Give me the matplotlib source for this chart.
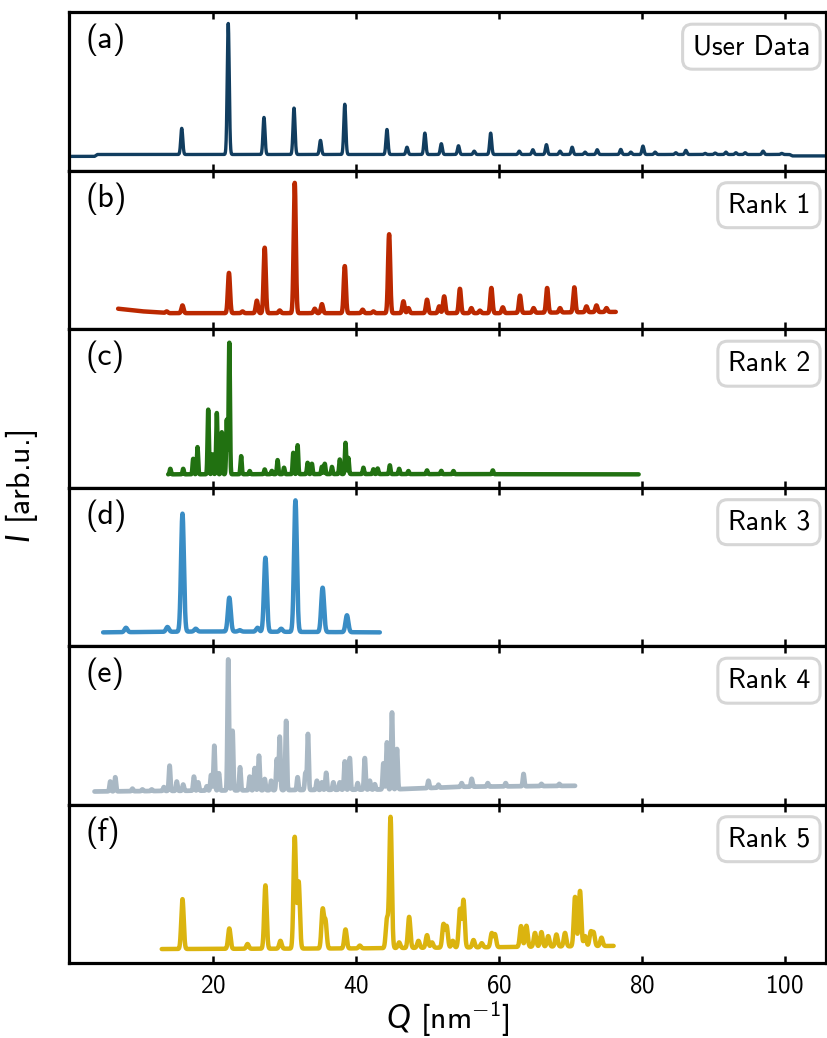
import numpy as np
import matplotlib
matplotlib.use("Agg")
import matplotlib.pyplot as plt

plt.rcParams['font.family'] = ['cmss10', 'DejaVu Sans']
plt.rcParams['mathtext.fontset'] = 'custom'
plt.rcParams['mathtext.rm'] = 'cmss10'
plt.rcParams['mathtext.sf'] = 'cmss10'
plt.rcParams['mathtext.it'] = 'Lato:italic'
plt.rcParams['axes.formatter.use_mathtext'] = True

# ---------------- data (Q in nm^-1, intensities as fraction of panel height) -------------
labels = ['(a)', '(b)', '(c)', '(d)', '(e)', '(f)']
names = ['User Data', 'Rank 1', 'Rank 2', 'Rank 3', 'Rank 4', 'Rank 5']
colors = ['#113d5f', '#bb2800', '#217111', '#3a8dc5', '#a9b8c4', '#dbb40f']
linewidths = [2.4, 3.2, 3.2, 3.2, 3.4, 3.2]
sigmas = [0.14, 0.15, 0.09, 0.2, 0.1, 0.17]

# Q range of each pattern
q_start = [0.0, 6.8, 13.8, 4.7, 3.5, 12.9]
q_end = [105.8, 76.4, 79.6, 43.4, 70.7, 76.1]

# baseline knots (Q, level)
base_a_q = [0.0, 3.5, 3.9, 100.7, 101.1, 105.8]
base_a_y = [0.089, 0.089, 0.101, 0.101, 0.092, 0.092]
base_b_q = [6.8, 10.0, 14.0, 60.0, 76.4]
base_b_y = [0.128, 0.112, 0.100, 0.100, 0.108]
base_c_q = [13.8, 40.0, 79.6]
base_c_y = [0.083, 0.085, 0.083]
base_d_q = [4.7, 20.0, 43.4]
base_d_y = [0.086, 0.092, 0.086]
base_e_q = [3.5, 20.0, 45.0, 55.0, 70.7]
base_e_y = [0.082, 0.088, 0.095, 0.112, 0.118]
base_f_q = [12.9, 40.0, 60.0, 76.1]
base_f_y = [0.088, 0.092, 0.100, 0.108]

# peak positions and peak tops
peaks_a_q = [15.7, 22.2, 27.2, 31.4, 35.1, 38.5, 44.4, 47.2, 49.7, 52.0, 54.4, 56.6,
             58.9, 62.9, 64.8, 66.7, 68.6, 70.3, 72.1, 73.8, 77.1, 78.5, 80.2, 81.9,
             84.8, 86.2, 88.9, 90.3, 91.8, 93.2, 94.5, 97.0, 99.6]
peaks_a_y = [0.266, 0.928, 0.335, 0.394, 0.190, 0.418, 0.259, 0.147, 0.236, 0.169, 0.156, 0.122,
             0.236, 0.122, 0.131, 0.163, 0.122, 0.147, 0.116, 0.131, 0.133, 0.116, 0.154, 0.116,
             0.112, 0.127, 0.108, 0.110, 0.116, 0.112, 0.112, 0.122, 0.108]

peaks_b_q = [13.6, 15.8, 22.3, 24.2, 26.2, 27.3, 29.4, 31.5, 34.3, 35.3, 38.5, 41.0,
             42.5, 44.7, 46.7, 47.4, 50.0, 51.7, 52.4, 54.6, 56.2, 57.4, 59.0, 60.6,
             63.0, 64.9, 66.8, 68.6, 70.6, 72.3, 73.7, 75.1]
peaks_b_y = [0.111, 0.149, 0.354, 0.111, 0.179, 0.513, 0.117, 0.922, 0.128, 0.157, 0.397, 0.122,
             0.111, 0.598, 0.175, 0.132, 0.185, 0.143, 0.206, 0.254, 0.132, 0.116, 0.259, 0.137,
             0.211, 0.132, 0.259, 0.132, 0.263, 0.143, 0.149, 0.132]

peaks_c_q = [14.1, 15.9, 17.3, 17.9, 19.4, 20.0, 20.6, 21.3, 22.0, 22.35, 24.0, 25.2,
             27.3, 28.3, 29.1, 30.0, 31.3, 31.9, 33.3, 33.9, 35.3, 35.7, 36.7, 37.8,
             38.6, 39.0, 41.1, 42.5, 43.1, 44.8, 46.1, 47.4, 50.0, 52.0, 53.7, 59.2]
peaks_c_y = [0.118, 0.118, 0.181, 0.255, 0.492, 0.209, 0.470, 0.349, 0.429, 0.915, 0.198, 0.104,
             0.114, 0.105, 0.173, 0.125, 0.219, 0.267, 0.156, 0.150, 0.131, 0.150, 0.130, 0.177,
             0.282, 0.187, 0.125, 0.115, 0.120, 0.140, 0.118, 0.104, 0.108, 0.105, 0.104, 0.108]

peaks_d_q = [7.9, 13.7, 15.8, 17.65, 22.35, 23.8, 26.3, 27.4, 29.6, 31.6, 35.4, 38.8]
peaks_d_y = [0.115, 0.120, 0.835, 0.109, 0.305, 0.100, 0.115, 0.557, 0.109, 0.919, 0.368, 0.194]

peaks_e_q = [5.7, 6.4, 8.8, 10.2, 11.5, 13.2, 14.0, 15.0, 15.9, 17.4, 18.0, 19.2,
             19.8, 20.25, 20.9, 22.2, 22.8, 23.85, 25.2, 25.9, 26.5, 27.3, 28.2, 29.0,
             29.4, 30.3, 31.9, 33.0, 33.35, 34.6, 35.3, 35.9, 36.9, 37.8, 38.5, 39.2,
             40.3, 41.3, 42.0, 42.7, 43.9, 44.4, 45.1, 45.8, 50.2, 51.6, 54.85, 56.25,
             58.5, 61.0, 63.5, 66.0, 68.5]
peaks_e_y = [0.145, 0.172, 0.100, 0.095, 0.095, 0.110, 0.245, 0.145, 0.126, 0.176, 0.140, 0.115,
             0.186, 0.371, 0.197, 0.916, 0.465, 0.235, 0.176, 0.230, 0.308, 0.161, 0.150, 0.287,
             0.428, 0.528, 0.172, 0.200, 0.445, 0.150, 0.140, 0.200, 0.140, 0.140, 0.272, 0.293,
             0.135, 0.293, 0.150, 0.128, 0.260, 0.392, 0.581, 0.350, 0.150, 0.125, 0.135, 0.162,
             0.135, 0.135, 0.193, 0.130, 0.130]

peaks_f_q = [15.8, 22.35, 24.9, 27.4, 29.5, 31.5, 32.05, 35.4, 35.8, 38.6, 40.6, 44.4,
             44.9, 46.1, 47.5, 48.8, 50.0, 50.7, 52.3, 52.75, 53.6, 54.6, 55.1, 56.5,
             57.65, 59.05, 59.5, 63.15, 63.9, 65.1, 66.0, 66.95, 68.1, 69.3, 70.7, 71.4,
             72.1, 72.9, 73.3, 74.4]
peaks_f_y = [0.403, 0.218, 0.120, 0.490, 0.140, 0.794, 0.511, 0.333, 0.260, 0.212, 0.110, 0.277,
             0.920, 0.130, 0.291, 0.140, 0.176, 0.130, 0.243, 0.230, 0.140, 0.338, 0.396, 0.145,
             0.125, 0.187, 0.180, 0.233, 0.235, 0.190, 0.195, 0.170, 0.180, 0.190, 0.417, 0.455,
             0.170, 0.195, 0.190, 0.160]

xticks = [20, 40, 60, 80, 100]
xlim = (0, 105.8)

bases = [(base_a_q, base_a_y), (base_b_q, base_b_y), (base_c_q, base_c_y),
         (base_d_q, base_d_y), (base_e_q, base_e_y), (base_f_q, base_f_y)]
peaks = [(peaks_a_q, peaks_a_y), (peaks_b_q, peaks_b_y), (peaks_c_q, peaks_c_y),
         (peaks_d_q, peaks_d_y), (peaks_e_q, peaks_e_y), (peaks_f_q, peaks_f_y)]

# ---------------- figure ----------------
fig = plt.figure(figsize=(8.28, 10.38), dpi=100)
top, bottom = 1 - 12 / 1038, 1 - 963 / 1038
left, right = 69.5 / 828, 826 / 828
gs = fig.add_gridspec(6, 1, left=left, right=right, top=top, bottom=bottom, hspace=0)
axes = [fig.add_subplot(gs[i]) for i in range(6)]

for i, ax in enumerate(axes):
    bq, by = bases[i]
    pq, py = peaks[i]
    q = np.linspace(q_start[i], q_end[i], 6000)
    base = np.interp(q, bq, by)
    y = base.copy()
    for p, h in zip(pq, py):
        amp = h - np.interp(p, bq, by)
        y += amp * np.exp(-0.5 * ((q - p) / sigmas[i]) ** 2)
    ax.plot(q, y, color=colors[i], lw=linewidths[i], solid_capstyle='round',
            solid_joinstyle='round')
    ax.set_xlim(*xlim)
    ax.set_ylim(0, 1)
    ax.set_yticks([])
    ax.set_xticks(xticks)
    ax.tick_params(axis='x', direction='in', top=True, bottom=True, length=5, width=1.8,
                   labelsize=18, pad=8)
    for s in ax.spines.values():
        s.set_linewidth(2.3)
    if i < 5:
        ax.tick_params(axis='x', labelbottom=False)
    ax.text(0.021, 0.925, labels[i], transform=ax.transAxes, fontsize=23, va='top', ha='left')
    ax.text(0.979, 0.86, names[i], transform=ax.transAxes, fontsize=20, va='top', ha='right',
            bbox=dict(boxstyle='round,pad=0.36,rounding_size=0.35', fc='white', ec='#d6d6d6', lw=2.2))

axes[-1].set_xlabel(r'$Q$ [nm$^{-1}$]', fontsize=23, labelpad=2)
fig.text(0.026, 0.531, r'$I$ [arb.u.]', rotation=90, va='center', ha='center', fontsize=23)

fig.savefig('out.png', dpi=100)
